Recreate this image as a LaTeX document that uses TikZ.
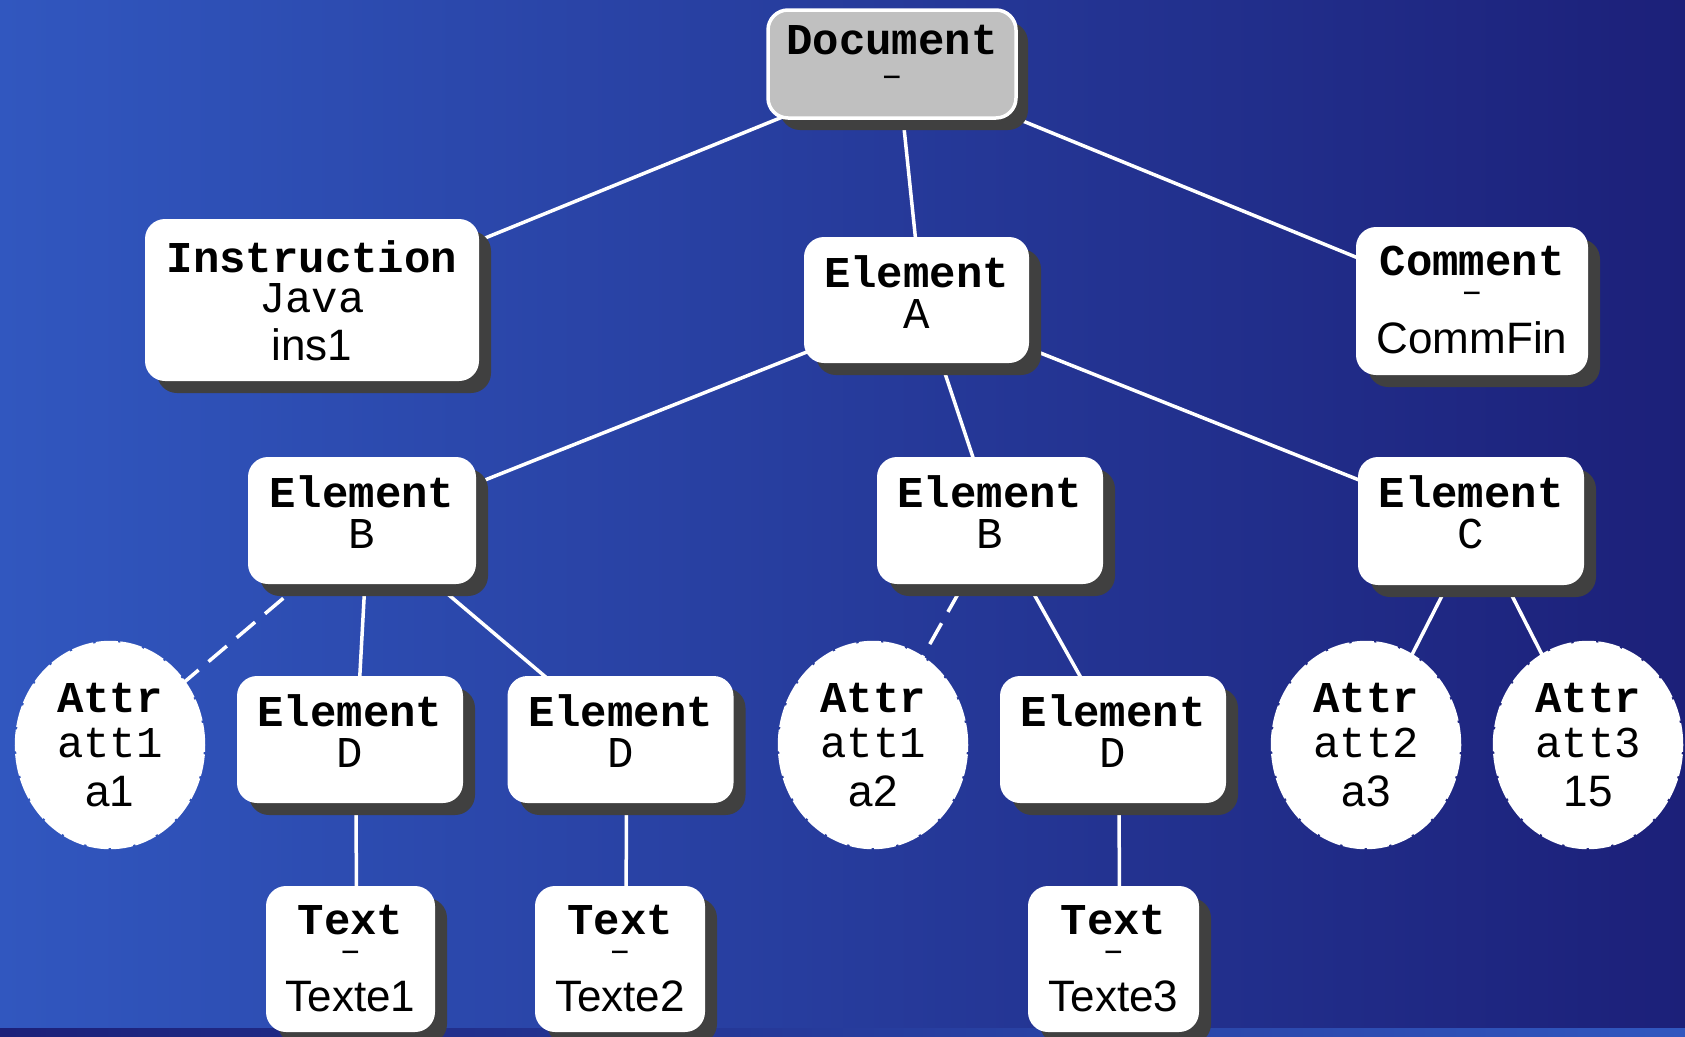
\documentclass[tikz,border=0pt]{standalone}
\usepackage{fontspec}
\setmainfont{Liberation Sans}
\newfontfamily\monof{Liberation Mono}
\usetikzlibrary{shapes.geometric,shadows,backgrounds}
\definecolor{bgL}{RGB}{49,87,191}
\definecolor{bgR}{RGB}{28,32,121}
\definecolor{shadowgray}{RGB}{64,64,64}
\definecolor{docgray}{RGB}{192,192,192}
\pgfdeclarelayer{bg}
\pgfdeclarelayer{edges}
\pgfsetlayers{bg,edges,main}
\tikzset{
  hd/.style={anchor=base, inner sep=0pt, font=\monof\bfseries\fontsize{44pt}{44pt}\selectfont},
  nm/.style={anchor=base, inner sep=0pt, font=\monof\fontsize{44pt}{44pt}\selectfont},
  dsh/.style={anchor=base, inner sep=0pt, font=\monof\fontsize{36pt}{36pt}\selectfont},
  vl/.style={anchor=base, inner sep=0pt, font=\fontsize{44pt}{44pt}\selectfont},
  tbox/.style={rectangle, rounded corners=20pt, fill=white, draw=none, inner sep=0pt,
    drop shadow={shadow xshift=12pt, shadow yshift=-12pt, fill=shadowgray, opacity=1}},
  docbox/.style={tbox, fill=docgray, draw=white, line width=3.5pt},
  attr/.style={ellipse, minimum width=188pt, minimum height=206pt, fill=white, draw=white,
    line width=2.5pt, dash pattern=on 22pt off 2.5pt, inner sep=0pt},
  edge/.style={draw=white, line width=3.5pt},
  dedge/.style={edge, dash pattern=on 24pt off 13pt},
}
\newcommand\eltext[2]{%
  \node[hd] (#1h) at ([yshift=-51pt]#1.north) {Element};
  \node[nm] (#1n) at ([yshift=-92pt]#1.north) {#2};}
\newcommand\attrtext[3]{%
  \node[hd] (#1h) at ([yshift=33pt]#1.center) {Attr};
  \node[nm] (#1n) at ([yshift=-12pt]#1.center) {#2};
  \node[vl] (#1v) at ([yshift=-61pt]#1.center) {#3};}
\newcommand\txttext[2]{%
  \node[hd] (#1h) at ([yshift=-49pt]#1.north) {Text};
  \node[dsh] (#1n) at ([yshift=-76pt]#1.north) {–};
  \node[vl] (#1v) at ([yshift=-126pt]#1.north) {#2};}
\newcommand\bb[3][edge]{\draw[#1] ([xshift=6pt,yshift=-6pt]#2.center) -- ([xshift=6pt,yshift=-6pt]#3.center);}
\newcommand\ba[3][edge]{\draw[#1] ([xshift=6pt,yshift=-6pt]#2.center) -- (#3.center);}
\begin{document}
\begin{tikzpicture}[x=1pt,y=-1pt]
\useasboundingbox (0,0) rectangle (1685,1036);
\begin{pgfonlayer}{bg}
  \shade[left color=bgL, right color=bgR] (0,0) rectangle (1685,1036);
  \shade[left color=bgR, right color=bgL] (0,1028) rectangle (1685,1036);
\end{pgfonlayer}

% boxes
\node[docbox, minimum width=248pt, minimum height=108pt] (doc) at (892,64) {};
\node[tbox, minimum width=334pt, minimum height=162pt] (ins) at (312,300) {};
\node[tbox, minimum width=225pt, minimum height=126pt] (elA) at (916.5,300) {};
\node[tbox, minimum width=232pt, minimum height=148pt] (com) at (1472,301) {};
\node[tbox, minimum width=228pt, minimum height=127pt] (elB1) at (362,520.5) {};
\node[tbox, minimum width=226pt, minimum height=127pt] (elB2) at (990,520.5) {};
\node[tbox, minimum width=226pt, minimum height=128pt] (elC) at (1471,521) {};
\node[tbox, minimum width=226pt, minimum height=127pt] (elD1) at (350,739.5) {};
\node[tbox, minimum width=226pt, minimum height=127pt] (elD2) at (620.5,739.5) {};
\node[tbox, minimum width=226pt, minimum height=127pt] (elD3) at (1113,739.5) {};
\node[tbox, minimum width=169pt, minimum height=146pt] (txt1) at (350.5,959) {};
\node[tbox, minimum width=170pt, minimum height=146pt] (txt2) at (620,959) {};
\node[tbox, minimum width=171pt, minimum height=146pt] (txt3) at (1113.5,959) {};
\node[attr] (a1) at (110,745) {};
\node[attr] (a2) at (873,745) {};
\node[attr] (a3) at (1366,745) {};
\node[attr] (a4) at (1588,745) {};

% texts
\node[hd] (doch) at ([yshift=-46pt]doc.north) {Document};
\node[dsh] (docn) at ([yshift=-78pt]doc.north) {–};
\node[hd] (insh) at ([yshift=-54pt]ins.north) {Instruction};
\node[nm] (insn) at ([yshift=-94pt]ins.north) {Java};
\node[vl] (insv) at ([yshift=-142pt]ins.north) {ins1};
\node[hd] (comh) at ([yshift=-49pt]com.north) {Comment};
\node[dsh] (comn) at ([yshift=-76pt]com.north) {–};
\node[vl] (comv) at ([yshift=-127pt]com.north) {CommFin};
\eltext{elA}{A}
\eltext{elB1}{B}
\eltext{elB2}{B}
\eltext{elC}{C}
\eltext{elD1}{D}
\eltext{elD2}{D}
\eltext{elD3}{D}
\txttext{txt1}{Texte1}
\txttext{txt2}{Texte2}
\txttext{txt3}{Texte3}
\attrtext{a1}{att1}{a1}
\attrtext{a2}{att1}{a2}
\attrtext{a3}{att2}{a3}
\attrtext{a4}{att3}{15}

% connectors
\begin{pgfonlayer}{edges}
  \bb{doc}{ins}
  \bb{doc}{elA}
  \bb{doc}{com}
  \bb{elA}{elB1}
  \bb{elA}{elB2}
  \bb{elA}{elC}
  \ba[dedge]{elB1}{a1}
  \bb{elB1}{elD1}
  \bb{elB1}{elD2}
  \ba[dedge]{elB2}{a2}
  \bb{elB2}{elD3}
  \ba{elC}{a3}
  \ba{elC}{a4}
  \bb{elD1}{txt1}
  \bb{elD2}{txt2}
  \bb{elD3}{txt3}
\end{pgfonlayer}
\end{tikzpicture}
\end{document}
